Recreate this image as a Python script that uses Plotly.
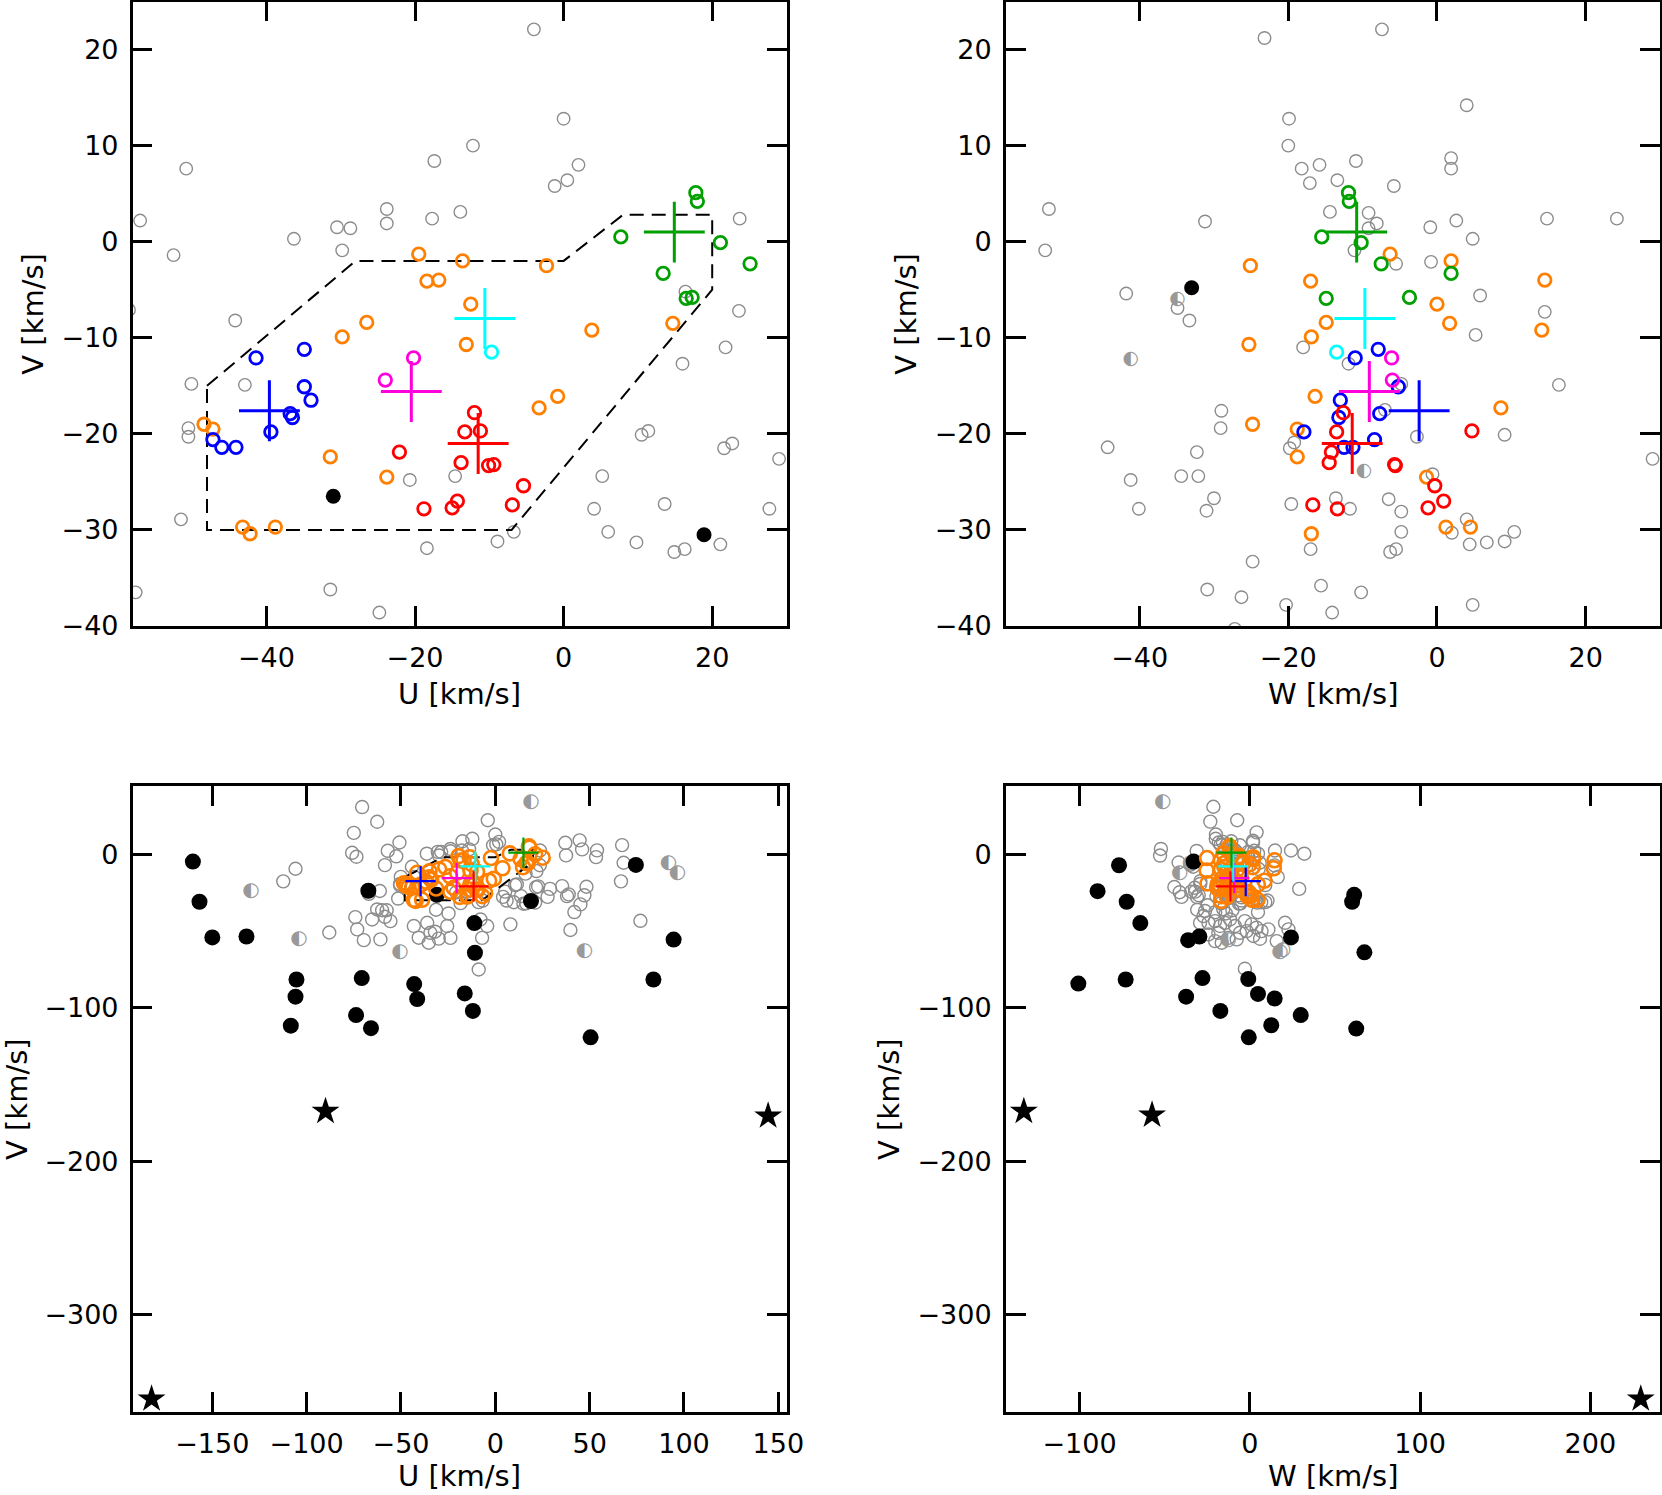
import plotly.graph_objects as go

FIG_W, FIG_H = 1662, 1495

# ---------------- field stars, U-V plane ----------------
# (U, V) in km/s; the first block is what shows in the zoomed panel,
# the second block only appears in the wide panel
GRAY_UV = [
    (-4.0, 22.1), (0.0, 12.8), (-12.2, 10.0), (-17.4, 8.4), (2.0, 8.0),
    (-50.8, 7.6), (-1.2, 5.8), (0.5, 6.4), (-23.8, 3.4), (-23.8, 1.9),
    (-17.7, 2.4), (-13.9, 3.1), (-57.0, 2.2), (-30.5, 1.5), (-28.7, 1.4),
    (-36.3, 0.3), (-29.8, -0.9), (-52.5, -1.4), (23.7, 2.4), (-44.2, -8.2),
    (23.6, -7.2), (-50.1, -14.8), (-42.9, -14.9), (21.8, -11.0), (16.0, -12.7),
    (-50.5, -19.4), (-50.5, -20.3), (10.5, -20.1), (11.4, -19.7), (21.6, -21.5),
    (22.7, -21.0), (29.0, -22.6), (-20.7, -24.8), (-14.6, -24.4), (5.2, -24.4),
    (-51.5, -28.9), (4.1, -27.8), (13.6, -27.3), (27.7, -27.8), (6.0, -30.2),
    (-6.7, -30.2), (-8.9, -31.2), (-18.4, -31.9), (9.8, -31.3), (14.9, -32.3),
    (16.3, -32.0), (21.1, -31.5), (-31.4, -36.2), (-57.6, -36.5), (-24.8, -38.6),
    (16.4, -5.2),
    # outside the zoomed window
    (-70.6, 30.7), (-62.6, 21.1), (-75.0, 13.9), (-75.9, 0.9), (-73.6, -1.7),
    (-58.5, -7.1), (-67.0, -25.8), (-61.2, -24.0), (-74.2, -41.0), (-73.2, -49.0),
    (-69.7, -56.0), (-65.3, -42.5), (-62.6, -36.0), (-60.0, -36.5), (-58.5, -40.8),
    (-55.6, -43.6), (-60.9, -55.5), (-88.0, -51.0), (-43.2, -46.8), (-40.6, -54.4),
    (-36.1, -44.7), (-34.4, -51.2), (-32.0, -50.5), (-30.0, -55.0), (-35.3, -57.7),
    (-23.8, -54.5), (-25.5, -46.8), (-7.9, -42.5), (-4.3, -46.8), (-7.0, -54.5),
    (-8.8, -75.1), (8.0, -45.7), (37.1, 7.4), (44.7, 9.0), (46.0, 3.1),
    (53.9, 2.5), (53.4, -1.9), (37.5, -0.8), (67.2, 5.9), (68.0, -5.6),
    (66.6, -17.7), (76.9, -43.4), (35.4, -20.8), (38.0, -27.3), (38.9, -26.2),
    (48.3, -21.2), (47.2, -26.8), (45.1, -32.7), (41.9, -37.7), (39.8, -49.4),
    (-105.9, -9.5), (-112.4, -17.7),
]
HALF_UV = [(-129.5, -24.0), (-104.1, -55.5), (-50.5, -64.0), (18.9, 34.2),
           (47.2, -63.2), (91.8, -6.0), (96.6, -12.5)]
BLACK_UV = [
    (-160.3, -4.8), (-156.8, -31.0), (-150.0, -54.2), (-131.9, -53.6), (-105.4, -81.6),
    (-105.9, -92.8), (-108.4, -111.7), (-70.8, -80.7), (-73.8, -104.8), (-65.9, -113.3),
    (-67.3, -23.8), (-43.0, -84.6), (-41.4, -94.3), (-16.2, -90.7), (-11.9, -102.1),
    (-11.1, -44.9), (-10.8, -64.2), (-31.0, -26.5), (18.9, -30.5), (50.5, -119.3),
    (74.5, -7.0), (83.8, -81.6), (94.5, -55.6),
]
STAR_UV = [(-90.0, -167.5), (144.6, -170.5), (-182.2, -354.8)]

# ---------------- field stars, W-V plane ----------------
GRAY_WV = [
    (-7.4, 22.1), (-23.2, 21.2), (4.0, 14.2), (-19.9, 12.8), (-20.0, 10.0),
    (-10.9, 8.4), (-18.2, 7.6), (-15.8, 8.0), (1.9, 8.7), (1.9, 7.6),
    (-17.1, 6.1), (-13.4, 6.4), (-5.8, 5.8), (-14.4, 3.1), (-9.2, 3.0),
    (-8.1, 1.9), (-9.2, 1.4), (-0.9, 1.5), (2.6, 2.2), (4.8, 0.3),
    (-11.1, -0.9), (-5.5, -2.3), (-0.8, -2.1), (5.8, -5.6), (14.8, 2.4),
    (24.2, 2.4), (-52.2, 3.4), (-52.7, -0.9), (-31.2, 2.1), (-41.8, -5.4),
    (-34.9, -6.9), (-33.3, -8.2), (14.5, -7.3), (5.2, -9.7), (-18.0, -11.0),
    (-11.9, -12.7), (-4.8, -14.8), (16.4, -14.9), (-29.0, -17.6), (-29.1, -19.4),
    (-7.0, -17.5), (9.1, -20.1), (-44.3, -21.4), (-32.3, -21.9), (-19.2, -20.9),
    (-19.8, -21.5), (-2.7, -20.3), (29.0, -22.6), (-41.2, -24.8), (-34.4, -24.4),
    (-32.1, -24.4), (-0.6, -24.2), (-30.0, -26.7), (-40.1, -27.8), (-31.0, -28.0),
    (-19.6, -27.3), (-13.6, -26.7), (-11.7, -27.8), (-6.5, -26.8), (-4.8, -28.1),
    (-4.8, -30.2), (4.0, -28.9), (2.0, -30.3), (4.4, -31.5), (6.7, -31.3),
    (9.1, -31.2), (10.4, -30.2), (-17.0, -32.0), (-6.3, -32.3), (-5.5, -32.0),
    (-24.8, -33.3), (-30.9, -36.2), (-15.6, -35.8), (-26.3, -37.0), (-10.2, -36.5),
    (-20.3, -37.8), (-14.1, -38.6), (4.8, -37.8),
    # outside the zoomed window
    (-21.4, 30.9), (32.0, 0.3), (-27.2, -40.3), (-24.3, -44.7), (-20.4, -43.6),
    (-17.5, -46.8), (-14.6, -44.7), (-11.6, -42.5), (-8.7, -46.8), (-5.8, -51.2),
    (-2.9, -43.6), (1.1, -45.7), (4.0, -47.9), (6.9, -50.1), (-24.3, -52.3),
    (-20.4, -56.6), (-16.5, -57.7), (-12.6, -54.5), (-7.7, -55.5), (-1.8, -50.1),
    (2.1, -53.3), (6.0, -55.1), (10.9, -49.0), (15.8, -56.6), (20.7, -44.7),
    (22.7, -49.0), (-2.9, -74.6), (-18.5, -51.2), (-29.2, -44.7),
]
HALF_WV = [(-51.1, 33.9), (-41.2, -12.2), (-34.9, -6.0), (-9.8, -23.9),
           (-12.6, -56.0), (17.7, -63.8), (19.3, -62.6)]
BLACK_WV = [
    (-100.7, -84.3), (-89.4, -24.1), (-76.8, -7.2), (-72.3, -31.0), (-72.9, -81.6),
    (-64.3, -44.9), (-36.2, -56.0), (-29.6, -53.6), (-33.0, -4.8), (-27.8, -80.7),
    (-37.4, -92.8), (-17.3, -102.1), (-0.9, -81.3), (4.8, -91.0), (14.6, -94.0),
    (12.6, -111.4), (-0.6, -119.3), (29.9, -104.8), (24.2, -54.2), (61.3, -26.5),
    (60.1, -31.0), (67.3, -63.9), (62.5, -113.6),
]
STAR_WV = [(-132.7, -167.5), (-57.4, -169.9), (229.6, -354.8)]

# ---------------- group members (U, W, V) ----------------
ORANGE_UWV = [
    (-19.5, -6.3, -1.3), (-13.6, 1.9, -2.0), (-2.3, -25.1, -2.5), (-18.4, -17.0, -4.1),
    (-16.8, 14.5, -4.0), (-12.5, 0.0, -6.5), (-26.5, -14.9, -8.4), (14.7, 1.7, -8.5),
    (-29.8, -16.9, -9.9), (-13.1, -25.3, -10.7), (3.8, 14.1, -9.2), (-0.8, -16.4, -16.1),
    (-3.3, 8.6, -17.3), (-48.4, -24.8, -19.0), (-47.2, -18.8, -19.5), (-31.4, -18.8, -22.4),
    (-23.8, -1.4, -24.5), (-43.2, 1.2, -29.7), (-38.8, 4.5, -29.7), (-42.2, -16.9, -30.4),
]
BLUE_UWV = [
    (-41.4, -11.0, -12.1), (-34.9, -7.9, -11.2), (-34.9, -5.2, -15.1), (-34.0, -13.0, -16.5),
    (-36.8, -7.7, -17.9), (-36.5, -13.2, -18.3), (-39.4, -17.9, -19.8), (-47.2, -8.4, -20.6),
    (-46.0, -12.5, -21.4), (-44.1, -11.3, -21.4),
]
RED_UWV = [
    (-12.0, -12.6, -17.8), (-13.3, -13.5, -19.8), (-11.2, 4.7, -19.7), (-13.8, -14.5, -23.0),
    (-10.1, -5.6, -23.3), (-9.4, -5.7, -23.2), (-22.1, -14.2, -21.9), (-18.8, -13.4, -27.8),
    (-15.0, -1.2, -27.7), (-14.3, 0.9, -27.0), (-5.4, -0.3, -25.4), (-6.9, -16.7, -27.4),
]
GREEN_UWV = [
    (17.8, -11.9, 5.1), (18.0, -11.8, 4.2), (7.7, -15.5, 0.5), (21.1, -10.2, -0.1),
    (25.1, -7.5, -2.3), (13.4, 1.9, -3.3), (16.5, -14.9, -5.9), (17.3, -3.7, -5.8),
]
MAGENTA_UWV = [(-20.2, -6.1, -12.1), (-24.0, -6.0, -14.4)]
CYAN_UWV = [(-9.7, -13.5, -11.5)]

GROUPS = [
    ("#0000ff", BLUE_UWV, (-39.6, -2.4, -17.6)),
    ("#ff00dd", MAGENTA_UWV, (-20.5, -9.1, -15.6)),
    ("#00ffff", CYAN_UWV, (-10.6, -9.7, -8.0)),
    ("#ff0000", RED_UWV, (-11.5, -11.4, -21.0)),
    ("#00a000", GREEN_UWV, (14.9, -10.8, 1.0)),
]

# dashed selection box in the U-V plane
BOX_U = [-48, -28, 0, 8, 20, 20, -7, -48, -48]
BOX_V = [-15, -2, -2, 2.8, 2.8, -5, -30, -30, -15]

GRAY = "#8c8c8c"
ORANGE = "#ff7f00"
FONT = "DejaVu Sans"

# panel boxes in pixels: left, right, top, bottom
PANELS = {
    "1": dict(box=(132.7, 786.5, 1.5, 626), xr=[-58, 30], yr=[-40, 25],
              xt=[-40, -20, 0, 20], yt=[-40, -30, -20, -10, 0, 10, 20], plane="U", zoom=True),
    "2": dict(box=(1005.8, 1660, 1.5, 626), xr=[-58, 30], yr=[-40, 25],
              xt=[-40, -20, 0, 20], yt=[-40, -30, -20, -10, 0, 10, 20], plane="W", zoom=True),
    "3": dict(box=(132.7, 787, 786, 1412), xr=[-192.2, 154.6], yr=[-363.3, 44.4],
              xt=[-150, -100, -50, 0, 50, 100, 150], yt=[-300, -200, -100, 0], plane="U", zoom=False),
    "4": dict(box=(1005.8, 1660, 786, 1412), xr=[-143.3, 240.9], yr=[-363.3, 44.4],
              xt=[-100, 0, 100, 200], yt=[-300, -200, -100, 0], plane="W", zoom=False),
}
YTITLE_X = {"1": 33, "2": 906, "3": 17, "4": 889}

fig = go.Figure()


def axes(key):
    return ("x", "y") if key == "1" else ("x" + key, "y" + key)


def add_points(key, xs, ys, **kw):
    xa, ya = axes(key)
    fig.add_trace(go.Scatter(x=list(xs), y=list(ys), xaxis=xa, yaxis=ya,
                             showlegend=False, hoverinfo="skip", **kw))


def inside(pts, p):
    # glyphs are text, keep only the ones that fall in the panel window
    return [q for q in pts if p["xr"][0] <= q[0] <= p["xr"][1] and p["yr"][0] <= q[1] <= p["yr"][1]]


for key, p in PANELS.items():
    col = 0 if p["plane"] == "U" else 1
    if p["plane"] == "U":
        gray, half, black, stars = GRAY_UV, HALF_UV, BLACK_UV, STAR_UV
    else:
        gray, half, black, stars = GRAY_WV, HALF_WV, BLACK_WV, STAR_WV
    z = p["zoom"]
    half = inside(half, p)

    add_points(key, [g[0] for g in gray], [g[1] for g in gray], mode="markers",
               marker=dict(symbol="circle-open", size=12.5 if z else 13, color=GRAY,
                           line=dict(width=1.4, color=GRAY)))
    if half:
        add_points(key, [h[0] for h in half], [h[1] for h in half], mode="text",
                   text=["\u25d0"] * len(half), textposition="middle center",
                   textfont=dict(family=FONT, size=19 if z else 20, color="#999999"))
    add_points(key, [b[0] for b in black], [b[1] for b in black], mode="markers",
               marker=dict(symbol="circle", size=15 if z else 16, color="black"))
    if not z:
        add_points(key, [s[0] for s in stars], [s[1] for s in stars], mode="markers",
                   marker=dict(symbol="star", size=21, color="black"))

    if p["plane"] == "U":
        add_points(key, BOX_U, BOX_V, mode="lines",
                   line=dict(color="black", width=2, dash="14px,8px"))

    if z:
        add_points(key, [o[col] for o in ORANGE_UWV], [o[2] for o in ORANGE_UWV],
                   mode="markers",
                   marker=dict(symbol="circle-open", size=12.5, color=ORANGE,
                               line=dict(width=2.8, color=ORANGE)))
        for color, members, _ in GROUPS:
            add_points(key, [m[col] for m in members], [m[2] for m in members],
                       mode="markers",
                       marker=dict(symbol="circle-open", size=12.5, color=color,
                                   line=dict(width=2.8, color=color)))
    else:
        allm = list(ORANGE_UWV)
        for _, members, _ in GROUPS:
            allm += members
        add_points(key, [m[col] for m in allm], [m[2] for m in allm], mode="markers",
                   marker=dict(symbol="circle-open", size=14, color=ORANGE,
                               line=dict(width=2.6, color=ORANGE)))

    for color, _, mean in GROUPS:
        add_points(key, [mean[col]], [mean[2]], mode="markers",
                   marker=dict(symbol="cross-thin", size=43.5 if z else 21.5, color=color,
                               line=dict(width=3 if z else 2.2, color=color)))

    left, right, top, bottom = p["box"]
    xa, ya = axes(key)
    common = dict(showgrid=False, zeroline=False, showline=True, linewidth=2.5,
                  linecolor="black", mirror="ticks", ticks="inside", ticklen=20,
                  tickwidth=2.5, tickcolor="black", automargin=False,
                  tickfont=dict(family=FONT, size=27, color="black"))
    fig.layout["xaxis" if key == "1" else "xaxis" + key] = dict(
        common, domain=[left / FIG_W, right / FIG_W], range=p["xr"], tickvals=p["xt"],
        anchor=ya, ticklabelstandoff=6)
    fig.layout["yaxis" if key == "1" else "yaxis" + key] = dict(
        common, domain=[1 - bottom / FIG_H, 1 - top / FIG_H], range=p["yr"], tickvals=p["yt"],
        anchor=xa, ticklabelstandoff=6)

    title = "U [km/s]" if p["plane"] == "U" else "W [km/s]"
    xt_y = 694 if z else 1476
    fig.add_annotation(text=title, xref="paper", yref="paper",
                       x=(left + right) / 2 / FIG_W, y=1 - xt_y / FIG_H,
                       showarrow=False, xanchor="center", yanchor="middle",
                       font=dict(family=FONT, size=29, color="black"))
    fig.add_annotation(text="V [km/s]", xref="paper", yref="paper",
                       x=YTITLE_X[key] / FIG_W, y=1 - (top + bottom) / 2 / FIG_H,
                       showarrow=False, textangle=-90, xanchor="center", yanchor="middle",
                       font=dict(family=FONT, size=29, color="black"))

fig.update_layout(width=FIG_W, height=FIG_H, margin=dict(l=0, r=0, t=0, b=0),
                  paper_bgcolor="white", plot_bgcolor="white", template="none")

# the page body has a default 8px margin; drop it so the figure sits at the window corner
fig.write_html("out.html", config={"displayModeBar": False},
               post_script="document.body.style.margin='0';document.body.style.overflow='hidden';")
